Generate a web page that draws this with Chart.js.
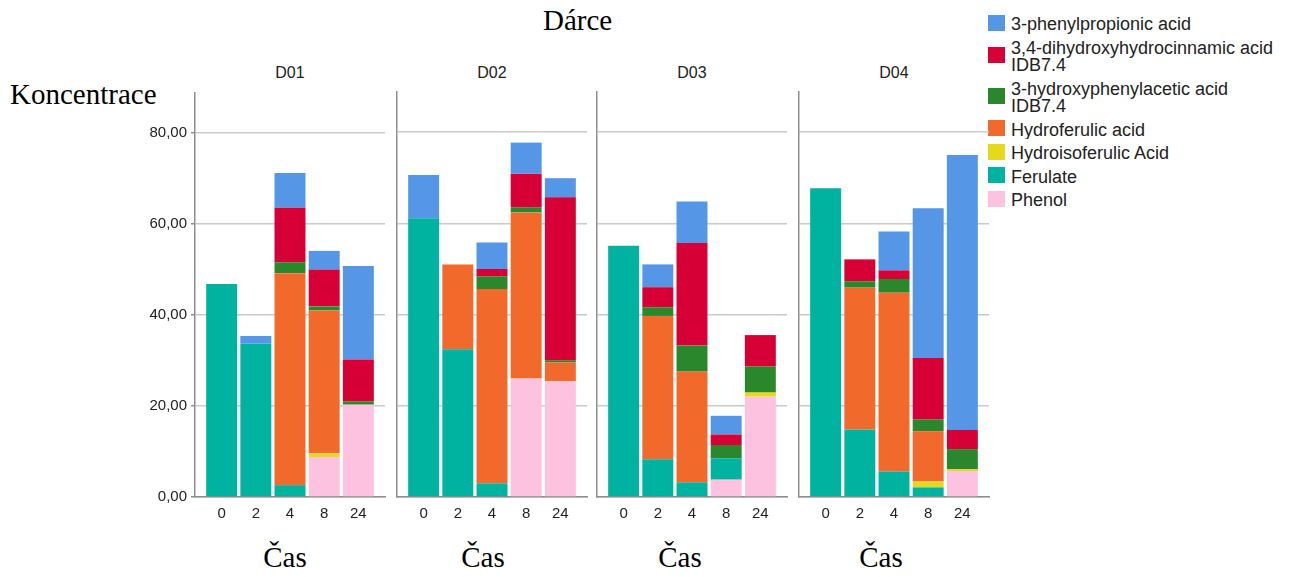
<!DOCTYPE html>
<html>
<head>
<meta charset="utf-8">
<script src="https://cdn.jsdelivr.net/npm/chart.js@4.4.1/dist/chart.umd.min.js"></script>
<style>
  body { margin: 0; background: #fff; width: 1290px; height: 577px; position: relative; overflow: hidden; }
  .serif { position: absolute; font-family: "Liberation Serif", "Times New Roman", serif; font-size: 29px; line-height: 29px; color: #000; white-space: nowrap; }
  .cas { transform: translateX(-50%); }
  .panel-title { position: absolute; width: 190px; text-align: center; font-family: "Liberation Sans", Arial, sans-serif; font-size: 16px; line-height: 18px; color: #222; }
  canvas { position: absolute; }
  #legend { position: absolute; left: 988px; top: 16px; font-family: "Liberation Sans", Arial, sans-serif; font-size: 18px; line-height: 17.5px; color: #222; }
  .item { display: flex; align-items: center; margin-bottom: 6px; }
  .swatch { width: 17px; height: 16px; flex: none; margin-right: 6px; position: relative; top: -2px; }
  .txt { white-space: pre; overflow: hidden; width: 266px; }
</style>
</head>
<body>
<div class="serif" style="left:543px; top:6px;">Dárce</div>
<div class="serif" style="left:10px; top:80px;">Koncentrace</div>
<div id="legend"></div>

<script>
const donors = ['D01', 'D02', 'D03', 'D04'];
const times = ['0', '2', '4', '8', '24'];
const yTicks = [0, 20, 40, 60, 80];

// legend order (top of stack first)
const names = [
  '3-phenylpropionic acid',
  '3,4-dihydroxyhydrocinnamic acid\nIDB7.4',
  '3-hydroxyphenylacetic acid\nIDB7.4',
  'Hydroferulic acid',
  'Hydroisoferulic Acid',
  'Ferulate',
  'Phenol'
];
const colors = ['#5596e6', '#d60036', '#2b872b', '#f2692c', '#e6d81a', '#00b2a0', '#fdc2e0'];

// values per donor (D01..D04), times 0,2,4,8,24
const phenylpropionic = [
  [0, 1.7, 7.6, 4.1, 20.6],
  [9.5, 0, 5.8, 6.8, 4.2],
  [0, 5.0, 9.1, 4.1, 0],
  [0, 0, 8.5, 32.8, 60.3]
];
const dihydroxyhydrocinnamic = [
  [0, 0, 12.0, 8.1, 9.2],
  [0, 0, 1.6, 7.4, 35.7],
  [0, 4.4, 22.5, 2.3, 6.9],
  [0, 4.8, 1.9, 13.5, 4.2]
];
const hydroxyphenylacetic = [
  [0, 0, 2.4, 0.9, 0.7],
  [0, 0, 2.8, 1.1, 0.5],
  [0, 1.9, 5.7, 2.9, 5.7],
  [0, 1.4, 3.0, 2.6, 4.4]
];
const hydroferulic = [
  [0, 0, 46.6, 31.4, 0],
  [0, 18.6, 42.6, 36.4, 4.1],
  [0, 31.4, 24.3, 0, 0],
  [0, 31.1, 39.2, 11.0, 0]
];
const hydroisoferulic = [
  [0, 0, 0, 0.8, 0],
  [0, 0, 0, 0, 0],
  [0, 0, 0, 0, 0.9],
  [0, 0, 0, 1.3, 0.4]
];
const ferulate = [
  [46.8, 33.7, 2.6, 0, 0],
  [61.1, 32.4, 3.0, 0, 0],
  [55.1, 8.3, 3.2, 4.7, 0],
  [67.7, 14.8, 5.6, 2.1, 0]
];
const phenol = [
  [0, 0, 0, 8.8, 20.3],
  [0, 0, 0, 26.0, 25.4],
  [0, 0, 0, 3.8, 22.0],
  [0, 0, 0, 0, 5.7]
];
const series = [phenylpropionic, dihydroxyhydrocinnamic, hydroxyphenylacetic, hydroferulic, hydroisoferulic, ferulate, phenol];

// legend
const legend = document.getElementById('legend');
names.forEach((n, s) => {
  const item = document.createElement('div');
  item.className = 'item';
  item.innerHTML = '<div class="swatch" style="background:' + colors[s] + '"></div><div class="txt"></div>';
  item.querySelector('.txt').textContent = n;
  legend.appendChild(item);
});

const panelLeft = [195, 397, 597, 799];
const casCenter = [285, 483, 680, 881];
const areaW = 190, areaTop = 92, areaBottom = 497;
const canvasTop = 80, xAxisH = 40;
const font = { family: 'Liberation Sans', size: 15 };

donors.forEach((d, k) => {
  const first = k === 0;
  const yW = first ? 65 : 4;

  const t = document.createElement('div');
  t.className = 'panel-title';
  t.style.left = panelLeft[k] + 'px';
  t.style.top = '64px';
  t.textContent = d;
  document.body.appendChild(t);

  const c = document.createElement('div');
  c.className = 'serif cas';
  c.style.left = casCenter[k] + 'px';
  c.style.top = '543px';
  c.textContent = 'Čas';
  document.body.appendChild(c);

  const cv = document.createElement('canvas');
  const w = yW + areaW + 1, h = areaBottom + xAxisH - canvasTop;
  cv.width = w; cv.height = h;
  cv.style.left = (panelLeft[k] - yW) + 'px';
  cv.style.top = canvasTop + 'px';
  cv.style.width = w + 'px';
  cv.style.height = h + 'px';
  document.body.appendChild(cv);

  const datasets = names.map((n, s) => ({
    label: n,
    data: series[s][k].map((v, i) => ({ x: i, y: v || null })),
    backgroundColor: colors[s],
    borderWidth: 0,
    barPercentage: 0.906,
    categoryPercentage: 1
  })).reverse();

  new Chart(cv, {
    type: 'bar',
    data: { datasets },
    options: {
      responsive: false,
      animation: false,
      layout: { padding: { top: areaTop - canvasTop, right: 1, left: 0, bottom: 0 } },
      plugins: { legend: { display: false }, tooltip: { enabled: false } },
      scales: {
        x: {
          type: 'linear', stacked: true, offset: false,
          min: -0.78, max: 4.78,
          afterBuildTicks: s => { s.ticks = times.map((_, i) => ({ value: i })); },
          afterFit: s => { s.height = xAxisH; },
          grid: { display: false, drawTicks: false },
          border: { display: true, color: '#8e8e8e', width: 1.5 },
          ticks: { padding: 8, color: '#222', font, autoSkip: false, maxRotation: 0, callback: v => times[v] }
        },
        y: {
          stacked: true, min: 0, max: 88.8,
          afterBuildTicks: s => { s.ticks = yTicks.map(v => ({ value: v })); },
          afterFit: s => { s.width = yW; },
          grid: { color: '#cacaca', lineWidth: 1.5, drawTicks: first, tickLength: 4, tickColor: '#8e8e8e' },
          border: { display: true, color: '#8e8e8e', width: 1.5 },
          ticks: { display: first, padding: 4, color: '#222', font, callback: v => v.toFixed(2).replace('.', ',') }
        }
      }
    }
  });
});
</script>
</body>
</html>
